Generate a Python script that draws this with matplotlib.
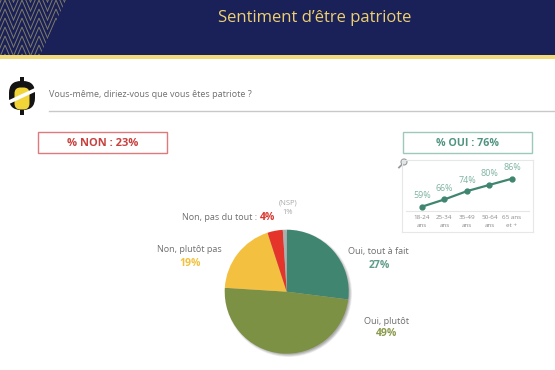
#!/usr/bin/env python3
"""Sentiment d'être patriote: pie with a small by-age line chart."""

import matplotlib

matplotlib.use("Agg")
import matplotlib.pyplot as plt
from matplotlib.patches import Circle, FancyBboxPatch, Polygon, Rectangle

plt.rcParams["font.family"] = ["Open Sans", "DejaVu Sans"]

W, H = 555, 370

PIE_VALUES = [27, 49, 19, 4, 1]
PIE_COLORS = ["#3f8570", "#7d9145", "#f4c03f", "#e5352b", "#a9b0b0"]

AGE_LABELS = ["18-24\nans", "25-34\nans", "35-49\nans", "50-64\nans", "65 ans\net +"]
AGE_OUI = [59, 66, 74, 80, 86]

TITLE = "Sentiment d’être patriote"
QUESTION = "Vous-même, diriez-vous que vous êtes patriote ?"
NON_TOTAL = "% NON : 23%"
OUI_TOTAL = "% OUI : 76%"

NAVY = "#1a2058"
GOLD = "#edd070"
GREY = "#6f6f6f"
GREEN_TXT = "#7fb3a3"


def px_axes(fig, left, top, right, bottom, **kw):
    """Axes placed from reference pixel coordinates."""
    return fig.add_axes([left / W, 1 - bottom / H, (right - left) / W, (bottom - top) / H], **kw)


fig = plt.figure(figsize=(W / 100, H / 100), dpi=100)

# background layer, in pixels with y going down
bg = fig.add_axes([0, 0, 1, 1])
bg.set_xlim(0, W)
bg.set_ylim(H, 0)
bg.axis("off")

header = Rectangle((0, 0), W, 55, color=NAVY, lw=0)
bg.add_patch(header)
bg.add_patch(Rectangle((0, 55), W, 4, color="#f3da78", lw=0))

# chevrons top left
for row in range(-3, 7):
    for col in range(0, 6):
        xc = 5 + col * 17
        y0 = row * 9
        line, = bg.plot([xc - 8.5, xc, xc + 8.5], [y0 + 20, y0, y0 + 20], color="#7f7c68", lw=0.7,
                        solid_joinstyle="miter")
        line.set_clip_path(header)
bg.add_patch(Polygon([(66, 0), (120, 0), (120, 55), (40, 55)], color=NAVY, lw=0, zorder=2.5))

bg.text(315, 18, TITLE, color=GOLD, fontsize=12, ha="center", va="center")

# logo
bg.add_patch(FancyBboxPatch((13, 85), 18, 21, boxstyle="round,pad=4,rounding_size=12", color="#141414", lw=0))
bg.add_patch(Rectangle((19.7, 76.5), 4, 38.5, color="#141414", lw=0))
bg.add_patch(FancyBboxPatch((17, 90), 10, 17, boxstyle="round,pad=2.5,rounding_size=6", color="#f1d437", lw=0))
bg.add_patch(Polygon([(7, 105), (7, 101), (37, 87), (37, 91)], color="white", lw=0))

bg.text(49, 94.5, QUESTION, color=GREY, fontsize=6.5, ha="left", va="center")
bg.plot([49, W], [111, 111], color="#c8c8c8", lw=1)

# total boxes
bg.add_patch(Rectangle((38, 132), 129, 21, fc="white", ec="#dc7a7c", lw=1))
bg.text(102.5, 143, NON_TOTAL, color="#c8413f", fontsize=8, fontweight="bold", ha="center", va="center")
bg.add_patch(Rectangle((403, 132), 129, 21, fc="white", ec="#9cc9bb", lw=1))
bg.text(467.5, 143, OUI_TOTAL, color="#4f9480", fontsize=7.7, fontweight="bold", ha="center", va="center")

# magnifier
bg.plot([399, 402], [167.5, 164.5], color="#9a9a9a", lw=1.3)
bg.add_patch(Circle((404, 162), 3, fc="#dfe7ea", ec="#9a9a9a", lw=0.8))

# pie labels
bg.text(378.5, 251.5, "Oui, tout à fait", color=GREY, fontsize=6.6, ha="center", va="center")
bg.text(379, 265, "27%", color="#5f9c8a", fontsize=7.5, fontweight="bold", ha="center", va="center")
bg.text(387, 321.5, "Oui, plutôt", color=GREY, fontsize=6.6, ha="center", va="center")
bg.text(387, 334, "49%", color="#8a9a4c", fontsize=7.5, fontweight="bold", ha="center", va="center")
bg.text(189.5, 250, "Non, plutôt pas", color=GREY, fontsize=6.5, ha="center", va="center")
bg.text(190, 263.5, "19%", color="#f2c23e", fontsize=7.5, fontweight="bold", ha="center", va="center")
bg.text(259, 217.5, "Non, pas du tout : ", color=GREY, fontsize=6.5, ha="right", va="center")
bg.text(260, 217.5, "4%", color="#d9372d", fontsize=7.5, fontweight="bold", ha="left", va="center")
bg.text(288, 202.5, "(NSP)", color="#a8a8a8", fontsize=5.4, ha="center", va="center")
bg.text(288, 212.5, "1%", color="#a8a8a8", fontsize=5.4, ha="center", va="center")

# soft shadow under the pie
for r, a in [(63.5, 0.06), (62.8, 0.08), (62, 0.1), (61, 0.12)]:
    bg.add_patch(Circle((288.5, 293.5), r, color="black", alpha=a, lw=0))

# pie
R = 62
cx, cy = 286.7, 291.7
ax_pie = px_axes(fig, cx - R, cy - R, cx + R, cy + R)
ax_pie.pie(PIE_VALUES, colors=PIE_COLORS, startangle=90, counterclock=False, radius=1,
           wedgeprops={"linewidth": 0})
ax_pie.set_xlim(-1, 1)
ax_pie.set_ylim(-1, 1)

# mini line chart by age
ax = px_axes(fig, 401.7, 160, 532.7, 232)
ax.patch.set_alpha(0)
ax.plot(range(len(AGE_OUI)), AGE_OUI, color="#3f8570", lw=1.6, marker="o", ms=3.5)
ax.set_xlim(-0.9, 4.92)
ax.set_ylim(34.6, 104)
for i, v in enumerate(AGE_OUI):
    ax.annotate(f"{v}%", (i, v), xytext=(0, 8), textcoords="offset points", color=GREEN_TXT,
                fontsize=6.4, ha="center", va="center")
ax.axhline(55, xmin=0.03, xmax=0.97, color="#e6e6e6", lw=0.8)
ax.set_yticks([])
ax.set_xticks(range(len(AGE_LABELS)))
ax.set_xticklabels(AGE_LABELS, fontsize=4.5, color="#8a8a8a", linespacing=1.7)
ax.tick_params(axis="x", length=0, direction="in", pad=-12)
for s in ax.spines.values():
    s.set_color("#e4e8e8")
    s.set_linewidth(0.8)

fig.savefig("out.png", dpi=100)
